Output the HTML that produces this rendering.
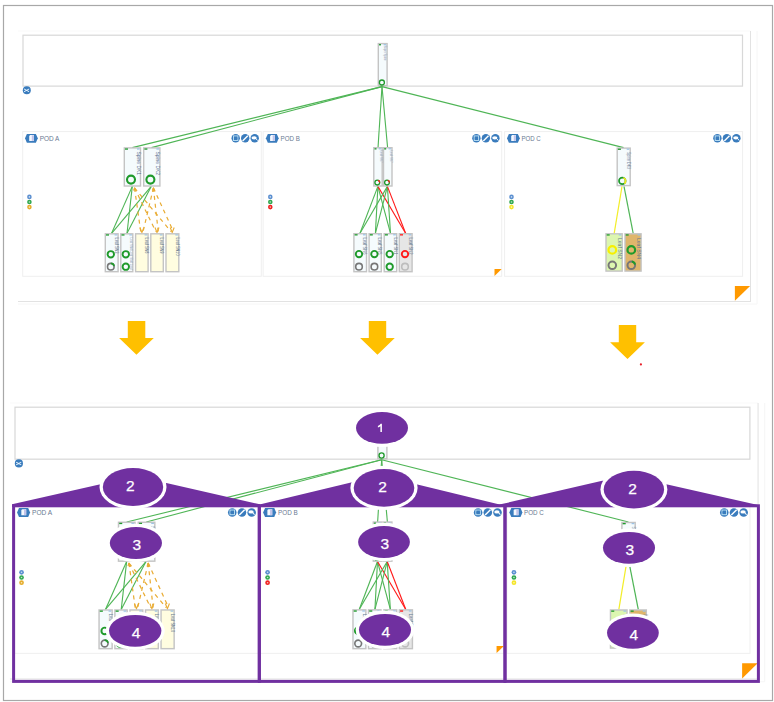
<!DOCTYPE html><html><head><meta charset="utf-8"><style>html,body{margin:0;padding:0;background:#fff;}svg{display:block;}</style></head><body>
<svg width="774" height="702" viewBox="0 0 774 702" font-family='"Liberation Sans", sans-serif'>
<rect width="774" height="702" fill="#fff"/>
<defs><g id="scr">
<line x1="18" y1="31" x2="750.5" y2="31" stroke="#f9f9f9" stroke-width="1"/>
<line x1="18" y1="301.5" x2="750.5" y2="301.5" stroke="#e2e2e2" stroke-width="1"/>
<line x1="750.5" y1="31" x2="750.5" y2="302" stroke="#e2e2e2" stroke-width="1"/>
<line x1="757" y1="31" x2="757" y2="304" stroke="#f6f6f6" stroke-width="1"/>
<line x1="18" y1="304" x2="757" y2="304" stroke="#f6f6f6" stroke-width="1"/>
<rect x="23" y="35.2" width="719.5" height="50.9" fill="#fff" stroke="#d8d8d8" stroke-width="1.2"/>
<circle cx="26.8" cy="90.3" r="4" fill="#3a7cbd"/>
<path d="M24.1 89L29.1 91.7M24.1 91.7L29.1 89" stroke="#e8f4ff" stroke-width="1"/>
<rect x="22.7" y="131.6" width="238.6" height="144.7" fill="#fff" stroke="#efefef" stroke-width="1"/>
<rect x="263.1" y="131.6" width="238.6" height="144.7" fill="#fff" stroke="#efefef" stroke-width="1"/>
<rect x="504.6" y="131.6" width="238.0" height="144.7" fill="#fff" stroke="#efefef" stroke-width="1"/>
<polygon points="25.00,138.35 26.90,133.90 35.90,133.90 37.80,138.35 35.90,142.80 26.90,142.80" fill="#3a7cbd"/>
<path d="M29.20 135.90l1 -0.8h3.8v6h-4.8z" fill="#f4f8ff"/>
<rect x="31.80" y="135.30" width="2.1" height="5.6" fill="#c2c4ea"/>
<text x="39.7" y="141" font-size="7.6" fill="#6a7a92" textLength="19.7" lengthAdjust="spacingAndGlyphs">POD A</text>
<circle cx="235.70" cy="138.3" r="4.2" fill="#3a7cbd"/>
<circle cx="245.20" cy="138.3" r="4.2" fill="#3a7cbd"/>
<circle cx="254.70" cy="138.3" r="4.2" fill="#3a7cbd"/>
<rect x="233.50" y="135.90" width="4.4" height="4.6" fill="none" stroke="#bfe3f5" stroke-width="0.9"/>
<rect x="234.10" y="137.50" width="3.2" height="1.6" fill="#3a7cbd"/>
<line x1="242.60" y1="140.90" x2="247.80" y2="135.70" stroke="#fff" stroke-width="1.4"/>
<ellipse cx="254.10" cy="137.80" rx="2.6" ry="1.6" fill="#fff"/>
<line x1="255.70" y1="138.30" x2="257.50" y2="140.50" stroke="#fff" stroke-width="1"/>
<polygon points="265.90,138.35 267.80,133.90 276.80,133.90 278.70,138.35 276.80,142.80 267.80,142.80" fill="#3a7cbd"/>
<path d="M270.10 135.90l1 -0.8h3.8v6h-4.8z" fill="#f4f8ff"/>
<rect x="272.70" y="135.30" width="2.1" height="5.6" fill="#c2c4ea"/>
<text x="280.6" y="141" font-size="7.6" fill="#6a7a92" textLength="19.3" lengthAdjust="spacingAndGlyphs">POD B</text>
<circle cx="476.40" cy="138.3" r="4.2" fill="#3a7cbd"/>
<circle cx="485.90" cy="138.3" r="4.2" fill="#3a7cbd"/>
<circle cx="495.40" cy="138.3" r="4.2" fill="#3a7cbd"/>
<rect x="474.20" y="135.90" width="4.4" height="4.6" fill="none" stroke="#bfe3f5" stroke-width="0.9"/>
<rect x="474.80" y="137.50" width="3.2" height="1.6" fill="#3a7cbd"/>
<line x1="483.30" y1="140.90" x2="488.50" y2="135.70" stroke="#fff" stroke-width="1.4"/>
<ellipse cx="494.80" cy="137.80" rx="2.6" ry="1.6" fill="#fff"/>
<line x1="496.40" y1="138.30" x2="498.20" y2="140.50" stroke="#fff" stroke-width="1"/>
<polygon points="507.00,138.35 508.90,133.90 517.90,133.90 519.80,138.35 517.90,142.80 508.90,142.80" fill="#3a7cbd"/>
<path d="M511.20 135.90l1 -0.8h3.8v6h-4.8z" fill="#f4f8ff"/>
<rect x="513.80" y="135.30" width="2.1" height="5.6" fill="#c2c4ea"/>
<text x="521.4" y="141" font-size="7.6" fill="#6a7a92" textLength="19.3" lengthAdjust="spacingAndGlyphs">POD C</text>
<circle cx="717.40" cy="138.3" r="4.2" fill="#3a7cbd"/>
<circle cx="726.90" cy="138.3" r="4.2" fill="#3a7cbd"/>
<circle cx="736.40" cy="138.3" r="4.2" fill="#3a7cbd"/>
<rect x="715.20" y="135.90" width="4.4" height="4.6" fill="none" stroke="#bfe3f5" stroke-width="0.9"/>
<rect x="715.80" y="137.50" width="3.2" height="1.6" fill="#3a7cbd"/>
<line x1="724.30" y1="140.90" x2="729.50" y2="135.70" stroke="#fff" stroke-width="1.4"/>
<ellipse cx="735.80" cy="137.80" rx="2.6" ry="1.6" fill="#fff"/>
<line x1="737.40" y1="138.30" x2="739.20" y2="140.50" stroke="#fff" stroke-width="1"/>
<circle cx="29.4" cy="196.90" r="2.3" fill="#5b8fd0"/>
<circle cx="29.4" cy="196.90" r="0.8" fill="#fff" opacity="0.7"/>
<circle cx="29.4" cy="202.00" r="2.3" fill="#2fa84f"/>
<circle cx="29.4" cy="202.00" r="0.8" fill="#fff" opacity="0.7"/>
<circle cx="29.4" cy="207.10" r="2.3" fill="#e5ad2c"/>
<circle cx="29.4" cy="207.10" r="0.8" fill="#fff" opacity="0.7"/>
<circle cx="270.3" cy="196.90" r="2.3" fill="#5b8fd0"/>
<circle cx="270.3" cy="196.90" r="0.8" fill="#fff" opacity="0.7"/>
<circle cx="270.3" cy="202.00" r="2.3" fill="#2fa84f"/>
<circle cx="270.3" cy="202.00" r="0.8" fill="#fff" opacity="0.7"/>
<circle cx="270.3" cy="207.10" r="2.3" fill="#f02020"/>
<circle cx="270.3" cy="207.10" r="0.8" fill="#fff" opacity="0.7"/>
<circle cx="511.5" cy="196.90" r="2.3" fill="#5b8fd0"/>
<circle cx="511.5" cy="196.90" r="0.8" fill="#fff" opacity="0.7"/>
<circle cx="511.5" cy="202.00" r="2.3" fill="#2fa84f"/>
<circle cx="511.5" cy="202.00" r="0.8" fill="#fff" opacity="0.7"/>
<circle cx="511.5" cy="207.10" r="2.3" fill="#f5e52a"/>
<circle cx="511.5" cy="207.10" r="0.8" fill="#fff" opacity="0.7"/>
<polygon points="494.5,269.1 501.7,269.1 494.5,275.9" fill="#ff9900"/>
<polygon points="734.9,286 750.1,286 734.9,300.8" fill="#ff9900"/>
<rect x="378.30" y="43.60" width="8.80" height="42.10" fill="#f5fbfd" stroke="#c4c4c4" stroke-width="1.4"/>
<rect x="379.00" y="44.10" width="2" height="1.3" fill="#1f9a2b"/>
<rect x="383.60" y="44.10" width="2.6" height="1.2" fill="#9cc3e6"/>
<text transform="translate(384.4,45.5) rotate(90)" font-size="4.0" textLength="15" lengthAdjust="spacingAndGlyphs" fill="#7a8aa4">Super Spine</text>
<circle cx="381.9" cy="82.5" r="2.5" fill="none" stroke="#1f9a2b" stroke-width="1.3"/>
<line x1="382" y1="86.6" x2="132.3" y2="147.6" stroke="#4fb556" stroke-width="1.1"/>
<line x1="382" y1="86.6" x2="151.5" y2="147.6" stroke="#4fb556" stroke-width="1.1"/>
<line x1="382" y1="86.6" x2="378.0" y2="147.6" stroke="#4fb556" stroke-width="1.1"/>
<line x1="382" y1="86.6" x2="387.6" y2="147.6" stroke="#4fb556" stroke-width="1.1"/>
<line x1="382" y1="86.6" x2="623.6" y2="147.6" stroke="#4fb556" stroke-width="1.1"/>
<line x1="132.3" y1="186.4" x2="111.6" y2="233.3" stroke="#4fb556" stroke-width="1.1"/>
<line x1="132.3" y1="186.4" x2="127.0" y2="233.3" stroke="#4fb556" stroke-width="1.1"/>
<line x1="151.2" y1="186.4" x2="111.6" y2="233.3" stroke="#4fb556" stroke-width="1.1"/>
<line x1="151.2" y1="186.4" x2="127.0" y2="233.3" stroke="#4fb556" stroke-width="1.1"/>
<line x1="134.5" y1="187.9" x2="140.70000000000002" y2="231.5" stroke="#e9ac34" stroke-width="1.2" stroke-dasharray="4,4"/>
<line x1="134.5" y1="187.9" x2="155.8" y2="231.5" stroke="#e9ac34" stroke-width="1.2" stroke-dasharray="4,4"/>
<line x1="134.5" y1="187.9" x2="171.0" y2="231.5" stroke="#e9ac34" stroke-width="1.2" stroke-dasharray="4,4"/>
<path d="M132.9 190.4L134.5 187.0L136.5 190.4" fill="#e9ac34"/>
<line x1="153.39999999999998" y1="187.9" x2="143.1" y2="231.5" stroke="#e9ac34" stroke-width="1.2" stroke-dasharray="4,4"/>
<line x1="153.39999999999998" y1="187.9" x2="158.2" y2="231.5" stroke="#e9ac34" stroke-width="1.2" stroke-dasharray="4,4"/>
<line x1="153.39999999999998" y1="187.9" x2="173.39999999999998" y2="231.5" stroke="#e9ac34" stroke-width="1.2" stroke-dasharray="4,4"/>
<path d="M151.8 190.4L153.4 187.0L155.4 190.4" fill="#e9ac34"/>
<path d="M139.9 227.5L141.9 232.5L143.9 227.5" fill="none" stroke="#e9ac34" stroke-width="1.1"/>
<path d="M155.0 227.5L157.0 232.5L159.0 227.5" fill="none" stroke="#e9ac34" stroke-width="1.1"/>
<path d="M170.2 227.5L172.2 232.5L174.2 227.5" fill="none" stroke="#e9ac34" stroke-width="1.1"/>
<rect x="124.30" y="147.90" width="16.20" height="38.10" fill="#f5fbfd" stroke="#c4c4c4" stroke-width="1.4"/>
<rect x="125.00" y="148.40" width="3" height="1.3" fill="#1f9a2b"/>
<rect x="137.00" y="148.40" width="2.6" height="1.2" fill="#9cc3e6"/>
<rect x="143.70" y="147.90" width="16.20" height="38.10" fill="#f5fbfd" stroke="#c4c4c4" stroke-width="1.4"/>
<rect x="144.40" y="148.40" width="3" height="1.3" fill="#1f9a2b"/>
<rect x="156.40" y="148.40" width="2.6" height="1.2" fill="#9cc3e6"/>
<text transform="translate(137.0,151.5) rotate(90)" font-size="5.8" textLength="23.5" lengthAdjust="spacingAndGlyphs" fill="#5f7290">Spine DK1</text>
<text transform="translate(156.4,151.5) rotate(90)" font-size="5.8" textLength="23.5" lengthAdjust="spacingAndGlyphs" fill="#5f7290">Spine DK2</text>
<circle cx="131.0" cy="179.6" r="4.0" fill="none" stroke="#1f9a2b" stroke-width="2.1"/>
<circle cx="150.4" cy="179.6" r="4.0" fill="none" stroke="#1f9a2b" stroke-width="2.1"/>
<rect x="105.30" y="233.80" width="12.80" height="37.90" fill="#f5fbfd" stroke="#c4c4c4" stroke-width="1.4"/>
<rect x="106.00" y="234.30" width="3" height="1.3" fill="#1f9a2b"/>
<rect x="114.60" y="234.30" width="2.6" height="1.2" fill="#9cc3e6"/>
<text transform="translate(115.0,237.5) rotate(90)" font-size="5.4" textLength="16" lengthAdjust="spacingAndGlyphs" fill="#66788f">Leaf SN3</text>
<rect x="120.80" y="233.80" width="12.00" height="37.90" fill="#f5fbfd" stroke="#c4c4c4" stroke-width="1.4"/>
<rect x="121.50" y="234.30" width="3" height="1.3" fill="#1f9a2b"/>
<rect x="129.30" y="234.30" width="2.6" height="1.2" fill="#9cc3e6"/>
<text transform="translate(130.1,237.5) rotate(90)" font-size="3.6" textLength="32" lengthAdjust="spacingAndGlyphs" fill="#8ea0b8">Leaf SN4 Leaf SN4 Leaf</text>
<rect x="135.60" y="233.80" width="12.50" height="37.90" fill="#fffde0" stroke="#c4c4c4" stroke-width="1.4"/>
<rect x="144.60" y="234.30" width="2.6" height="1.2" fill="#9cc3e6"/>
<text transform="translate(145.0,237.5) rotate(90)" font-size="5.4" textLength="16" lengthAdjust="spacingAndGlyphs" fill="#66788f">Leaf SN8</text>
<rect x="150.80" y="233.80" width="12.50" height="37.90" fill="#fffde0" stroke="#c4c4c4" stroke-width="1.4"/>
<rect x="159.80" y="234.30" width="2.6" height="1.2" fill="#9cc3e6"/>
<text transform="translate(160.2,237.5) rotate(90)" font-size="5.4" textLength="16" lengthAdjust="spacingAndGlyphs" fill="#66788f">Leaf SN9</text>
<rect x="166.00" y="233.80" width="12.80" height="37.90" fill="#fffde0" stroke="#c4c4c4" stroke-width="1.4"/>
<rect x="175.30" y="234.30" width="2.6" height="1.2" fill="#9cc3e6"/>
<text transform="translate(175.7,237.5) rotate(90)" font-size="5.4" textLength="18" lengthAdjust="spacingAndGlyphs" fill="#66788f">Leaf SN10</text>
<circle cx="110.8" cy="254.3" r="3.2" fill="none" stroke="#1f9a2b" stroke-width="1.9"/>
<circle cx="110.8" cy="266.7" r="3.3" fill="none" stroke="#777777" stroke-width="1.6"/>
<path d="M110.80 263.40A3.3 3.3 0 0 1 114.04 266.08" fill="none" stroke="#1f9a2b" stroke-width="1.6"/>
<circle cx="125.8" cy="254.3" r="3.2" fill="none" stroke="#1f9a2b" stroke-width="1.9"/>
<circle cx="125.8" cy="266.7" r="3.2" fill="none" stroke="#1f9a2b" stroke-width="1.9"/>
<line x1="377.9" y1="186.4" x2="360.0" y2="233.3" stroke="#4fb556" stroke-width="1.1"/>
<line x1="377.9" y1="186.4" x2="375.4" y2="233.3" stroke="#4fb556" stroke-width="1.1"/>
<line x1="377.9" y1="186.4" x2="390.5" y2="233.3" stroke="#4fb556" stroke-width="1.1"/>
<line x1="377.9" y1="186.4" x2="405.6" y2="233.3" stroke="#ff1a1a" stroke-width="1.1"/>
<line x1="387.4" y1="186.4" x2="360.0" y2="233.3" stroke="#4fb556" stroke-width="1.1"/>
<line x1="387.4" y1="186.4" x2="375.4" y2="233.3" stroke="#4fb556" stroke-width="1.1"/>
<line x1="387.4" y1="186.4" x2="390.5" y2="233.3" stroke="#4fb556" stroke-width="1.1"/>
<line x1="387.4" y1="186.4" x2="405.6" y2="233.3" stroke="#ff1a1a" stroke-width="1.1"/>
<rect x="373.80" y="147.70" width="8.40" height="38.30" fill="#f5fbfd" stroke="#c4c4c4" stroke-width="1.4"/>
<rect x="374.50" y="148.20" width="2" height="1.3" fill="#1f9a2b"/>
<rect x="378.70" y="148.20" width="2.6" height="1.2" fill="#9cc3e6"/>
<rect x="383.50" y="147.70" width="8.50" height="38.30" fill="#f5fbfd" stroke="#c4c4c4" stroke-width="1.4"/>
<rect x="384.20" y="148.20" width="2" height="1.3" fill="#1f9a2b"/>
<rect x="388.50" y="148.20" width="2.6" height="1.2" fill="#9cc3e6"/>
<text transform="translate(380.3,150.5) rotate(90)" font-size="3.6" textLength="12" lengthAdjust="spacingAndGlyphs" fill="#8ea0b8">Leaf SN7</text>
<text transform="translate(390.0,150.5) rotate(90)" font-size="3.6" textLength="12" lengthAdjust="spacingAndGlyphs" fill="#8ea0b8">Leaf SN7</text>
<circle cx="377.3" cy="182.6" r="2.4" fill="none" stroke="#1f9a2b" stroke-width="1.3"/>
<path d="M378.04 180.32A2.4 2.4 0 0 1 379.70 182.60" fill="none" stroke="#ff1a1a" stroke-width="1.3"/>
<circle cx="387.0" cy="182.6" r="2.4" fill="none" stroke="#1f9a2b" stroke-width="1.3"/>
<path d="M387.74 180.32A2.4 2.4 0 0 1 389.40 182.60" fill="none" stroke="#ff1a1a" stroke-width="1.3"/>
<rect x="353.90" y="233.70" width="12.60" height="38.00" fill="#f5fbfd" stroke="#c4c4c4" stroke-width="1.4"/>
<rect x="354.60" y="234.20" width="3" height="1.3" fill="#1f9a2b"/>
<rect x="363.00" y="234.20" width="2.6" height="1.2" fill="#9cc3e6"/>
<text transform="translate(363.4,237.5) rotate(90)" font-size="5.4" textLength="17" lengthAdjust="spacingAndGlyphs" fill="#66788f">Leaf SN6</text>
<rect x="369.10" y="233.70" width="12.20" height="38.00" fill="#f5fbfd" stroke="#c4c4c4" stroke-width="1.4"/>
<rect x="369.80" y="234.20" width="3" height="1.3" fill="#1f9a2b"/>
<rect x="377.80" y="234.20" width="2.6" height="1.2" fill="#9cc3e6"/>
<text transform="translate(378.2,237.5) rotate(90)" font-size="5.4" textLength="17" lengthAdjust="spacingAndGlyphs" fill="#66788f">Leaf SN5</text>
<rect x="384.20" y="233.70" width="12.50" height="38.00" fill="#f5fbfd" stroke="#c4c4c4" stroke-width="1.4"/>
<rect x="384.90" y="234.20" width="3" height="1.3" fill="#1f9a2b"/>
<rect x="393.20" y="234.20" width="2.6" height="1.2" fill="#9cc3e6"/>
<text transform="translate(393.59999999999997,237.5) rotate(90)" font-size="5.4" textLength="17" lengthAdjust="spacingAndGlyphs" fill="#66788f">Leaf SN1</text>
<rect x="399.30" y="233.70" width="12.80" height="38.00" fill="#e6e6e6" stroke="#c4c4c4" stroke-width="1.4"/>
<rect x="400.00" y="234.20" width="3" height="1.3" fill="#ff1a1a"/>
<rect x="408.60" y="234.20" width="2.6" height="1.2" fill="#9cc3e6"/>
<text transform="translate(409.0,237.5) rotate(90)" font-size="5.4" textLength="17" lengthAdjust="spacingAndGlyphs" fill="#66788f">Leaf SN2</text>
<circle cx="359.0" cy="254.1" r="3.2" fill="none" stroke="#1f9a2b" stroke-width="1.9"/>
<circle cx="359.0" cy="266.7" r="3.3" fill="none" stroke="#777777" stroke-width="1.6"/>
<circle cx="374.4" cy="254.1" r="3.2" fill="none" stroke="#1f9a2b" stroke-width="1.9"/>
<circle cx="374.4" cy="266.7" r="3.3" fill="none" stroke="#777777" stroke-width="1.6"/>
<circle cx="389.7" cy="254.1" r="3.2" fill="none" stroke="#1f9a2b" stroke-width="1.9"/>
<circle cx="389.7" cy="266.7" r="3.2" fill="none" stroke="#1f9a2b" stroke-width="1.9"/>
<circle cx="405.0" cy="254.1" r="3.2" fill="none" stroke="#ff1a1a" stroke-width="1.9"/>
<circle cx="405.0" cy="266.7" r="3.3" fill="none" stroke="#bdbdbd" stroke-width="1.6"/>
<line x1="622.0" y1="186.4" x2="614.2" y2="233.3" stroke="#f2ee2a" stroke-width="1.2"/>
<line x1="624.0" y1="186.4" x2="633.2" y2="233.3" stroke="#4fb556" stroke-width="1.2"/>
<rect x="617.20" y="148.10" width="13.00" height="37.50" fill="#f5fbfd" stroke="#c4c4c4" stroke-width="1.4"/>
<rect x="617.90" y="148.60" width="3" height="1.3" fill="#1f9a2b"/>
<rect x="626.70" y="148.60" width="2.6" height="1.2" fill="#9cc3e6"/>
<text transform="translate(627.0,152) rotate(90)" font-size="4.6" textLength="17" lengthAdjust="spacingAndGlyphs" fill="#7a8aa2">Spine DK3</text>
<circle cx="622.3" cy="180.9" r="3.3" fill="none" stroke="#1f9a2b" stroke-width="1.7"/>
<path d="M623.32 177.76A3.3 3.3 0 0 1 624.24 183.57" fill="none" stroke="#f0ea20" stroke-width="1.7"/>
<rect x="606.00" y="233.80" width="16.20" height="37.30" fill="#dcf6b0" stroke="#c4c4c4" stroke-width="1.4"/>
<rect x="606.70" y="234.30" width="3" height="1.3" fill="#1f9a2b"/>
<rect x="618.70" y="234.30" width="2.6" height="1.2" fill="#9cc3e6"/>
<rect x="625.00" y="233.80" width="16.10" height="37.30" fill="#dfb66b" stroke="#c4c4c4" stroke-width="1.4"/>
<rect x="625.70" y="234.30" width="3" height="1.3" fill="#1f9a2b"/>
<rect x="637.60" y="234.30" width="2.6" height="1.2" fill="#9cc3e6"/>
<text transform="translate(618.4,237.9) rotate(90)" font-size="6.2" textLength="21.2" lengthAdjust="spacingAndGlyphs" fill="#66788f">Leaf SN2</text>
<text transform="translate(637.4,237.9) rotate(90)" font-size="6.2" textLength="21.2" lengthAdjust="spacingAndGlyphs" fill="#66788f">Leaf SN4</text>
<circle cx="612.3" cy="249.9" r="3.8" fill="none" stroke="#f7f000" stroke-width="2.2"/>
<circle cx="612.3" cy="265.3" r="3.8" fill="none" stroke="#777777" stroke-width="2.0"/>
<circle cx="631.3" cy="249.9" r="3.8" fill="none" stroke="#1f9a2b" stroke-width="2.2"/>
<circle cx="631.3" cy="265.3" r="3.8" fill="none" stroke="#777777" stroke-width="2.0"/>
<path d="M631.78 261.53A3.8 3.8 0 0 1 635.03 264.59" fill="none" stroke="#1f9a2b" stroke-width="2.0"/>
</g></defs>
<use href="#scr"/>
<use href="#scr" transform="matrix(1.0214 0 0 1.021 -8.49 371.26)"/>
<rect x="3.5" y="5.5" width="769" height="695" fill="none" stroke="#a8a8a8" stroke-width="1.2"/>
<polygon points="127.8,321.1 145.3,321.1 145.3,338.1 153.8,338.1 136.45,354.8 119.1,338.1 127.8,338.1" fill="#ffc000"/>
<polygon points="368.8,321.1 386.2,321.1 386.2,338.1 394.8,338.1 377.45000000000005,354.8 360.1,338.1 368.8,338.1" fill="#ffc000"/>
<polygon points="618.8,325.0 636.2,325.0 636.2,342.2 644.9,342.2 627.5,359.0 610.1,342.2 618.8,342.2" fill="#ffc000"/>
<circle cx="640.9" cy="364.4" r="1.1" fill="#e8202a"/>
<polygon points="12.1,504.3 99.3,484.4 166.3,483.0 259.8,504.3 259.8,507.0 12.1,507.0" fill="#7030a0"/>
<polygon points="260.6,504.3 351.0,482.4 416.4,484.2 499.6,504.6 499.6,507.0 260.6,507.0" fill="#7030a0"/>
<polygon points="499.4,504.6 602.2,480.7 667.4,484.6 758.0,505.0 758.0,507.0 499.4,507.0" fill="#7030a0"/>
<rect x="13.6" y="505.8" width="245.6" height="175.6" fill="none" stroke="#7030a0" stroke-width="3"/>
<rect x="259.4" y="505.8" width="245.6" height="175.6" fill="none" stroke="#7030a0" stroke-width="3"/>
<rect x="505.0" y="505.8" width="253.4" height="175.6" fill="none" stroke="#7030a0" stroke-width="3"/>
<ellipse cx="382.0" cy="427.9" rx="29.3" ry="19.2" fill="#fff"/>
<ellipse cx="382.0" cy="427.9" rx="26.0" ry="15.9" fill="#7030a0"/>
<path d="M381.9 423.7L381.9 432L380.4 432L380.4 426.3Q379.3 427.1 377.9 427.4L377.9 426Q379.8 425.3 380.7 423.7Z" fill="#fff"/>
<ellipse cx="133.0" cy="487.0" rx="33.5" ry="22.3" fill="#fff"/>
<ellipse cx="133.0" cy="487.0" rx="30.2" ry="19.0" fill="#7030a0"/>
<text x="130.40" y="491.35" font-size="15.5" fill="#fff" stroke="#fff" stroke-width="0.25" text-anchor="middle">2</text>
<ellipse cx="384.0" cy="487.9" rx="33.6" ry="22.2" fill="#fff"/>
<ellipse cx="384.0" cy="487.9" rx="30.3" ry="18.9" fill="#7030a0"/>
<text x="382.50" y="492.25" font-size="15.5" fill="#fff" stroke="#fff" stroke-width="0.25" text-anchor="middle">2</text>
<ellipse cx="633.9" cy="489.6" rx="33.5" ry="22.2" fill="#fff"/>
<ellipse cx="633.9" cy="489.6" rx="30.2" ry="18.9" fill="#7030a0"/>
<text x="632.50" y="494.05" font-size="15.5" fill="#fff" stroke="#fff" stroke-width="0.25" text-anchor="middle">2</text>
<ellipse cx="135.9" cy="543.0" rx="29.400000000000002" ry="19.3" fill="#fff"/>
<ellipse cx="135.9" cy="543.0" rx="26.1" ry="16.0" fill="#7030a0"/>
<text x="136.80" y="550.35" font-size="15.5" fill="#fff" stroke="#fff" stroke-width="0.25" text-anchor="middle">3</text>
<ellipse cx="384.0" cy="542.0" rx="29.2" ry="19.2" fill="#fff"/>
<ellipse cx="384.0" cy="542.0" rx="25.9" ry="15.9" fill="#7030a0"/>
<text x="384.90" y="549.25" font-size="15.5" fill="#fff" stroke="#fff" stroke-width="0.25" text-anchor="middle">3</text>
<ellipse cx="629.0" cy="547.85" rx="29.35" ry="19.25" fill="#fff"/>
<ellipse cx="629.0" cy="547.85" rx="26.05" ry="15.95" fill="#7030a0"/>
<text x="629.90" y="555.15" font-size="15.5" fill="#fff" stroke="#fff" stroke-width="0.25" text-anchor="middle">3</text>
<ellipse cx="135.2" cy="630.8" rx="29.5" ry="19.2" fill="#fff"/>
<ellipse cx="135.2" cy="630.8" rx="26.2" ry="15.9" fill="#7030a0"/>
<text x="135.95" y="638.15" font-size="15.5" fill="#fff" stroke="#fff" stroke-width="0.25" text-anchor="middle">4</text>
<ellipse cx="385.0" cy="629.85" rx="29.35" ry="19.25" fill="#fff"/>
<ellipse cx="385.0" cy="629.85" rx="26.05" ry="15.95" fill="#7030a0"/>
<text x="385.80" y="637.05" font-size="15.5" fill="#fff" stroke="#fff" stroke-width="0.25" text-anchor="middle">4</text>
<ellipse cx="632.9" cy="632.8" rx="29.2" ry="19.3" fill="#fff"/>
<ellipse cx="632.9" cy="632.8" rx="25.9" ry="16.0" fill="#7030a0"/>
<text x="633.80" y="640.05" font-size="15.5" fill="#fff" stroke="#fff" stroke-width="0.25" text-anchor="middle">4</text>
</svg></body></html>
